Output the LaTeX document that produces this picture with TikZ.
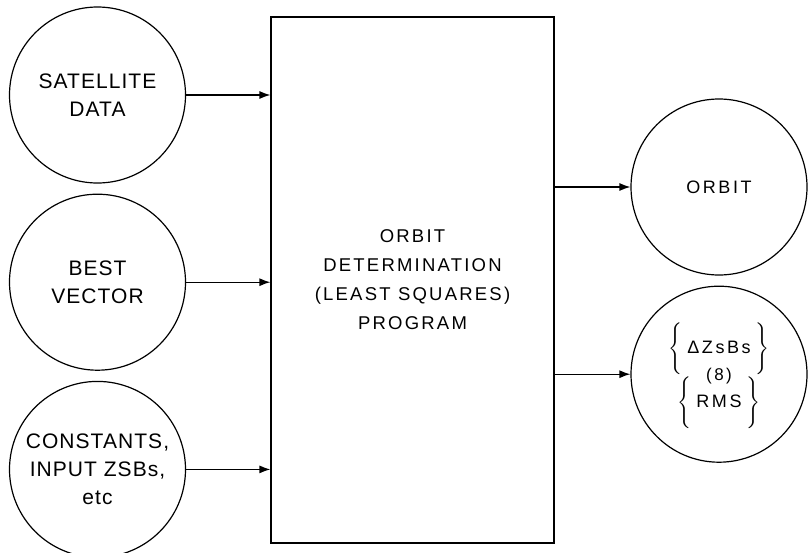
\documentclass[tikz,border=0pt]{standalone}
\usepackage{amsmath}
\usepackage{fontspec}
\setmainfont{Liberation Sans}
\newfontfamily\inletter{Liberation Sans}[LetterSpace=5]
\newfontfamily\boxletter{Liberation Sans}[LetterSpace=12]
\newfontfamily\outletter{Liberation Sans}[LetterSpace=14]
\usetikzlibrary{arrows.meta, positioning}

\begin{document}
\begin{tikzpicture}[x=1pt, y=-1pt, line width=1.2pt, node distance=10pt,
  src/.style={circle, draw, inner sep=0pt, minimum size=176pt, align=center,
              font=\inletter\fontsize{21}{28}\selectfont},
  res/.style={src, font=\outletter\fontsize{18}{27}\selectfont},
  prog/.style={rectangle, draw, minimum width=283pt, minimum height=526pt, align=center,
               font=\boxletter\fontsize{18.5}{29}\selectfont},
  a/.style={-{Latex[length=11pt, width=8pt]}}]
\useasboundingbox (0,0) rectangle (808,552);
\node[src] (sat) at (97.5,95) {SATELLITE\\DATA};
\node[src, below=of sat] (vec) {BEST\\VECTOR};
\node[src, below=of vec] (con) {CONSTANTS,\\INPUT ZSBs,\\etc};
\node[prog] (od) at (412.5,280) {ORBIT\\DETERMINATION\\(LEAST SQUARES)\\PROGRAM};
\node[res] (orb) at (719,187) {ORBIT};
\node[res, below=of orb] (rms) {\smash{$\Biggl\{$}\;ΔZsBs\;\smash{$\Biggr\}$}\\
  {\fontsize{17}{27}\selectfont(8)}\\
  \smash{$\Biggl\{$}\;RMS\;\smash{$\Biggr\}$}};
\draw[a] (sat.east) -- (sat.east -| od.west);
\draw[a] (vec.east) -- (vec.east -| od.west);
\draw[a] (con.east) -- (con.east -| od.west);
\draw[a] (orb.west -| od.east) -- (orb.west);
\draw[a] (rms.west -| od.east) -- (rms.west);
\end{tikzpicture}
\end{document}
